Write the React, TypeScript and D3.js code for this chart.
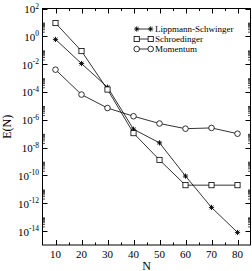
import React, { useRef, useEffect } from "react";
import { select, scaleLinear, scaleLog, line, range } from "d3";

const nValues = [10, 20, 30, 40, 50, 60, 70, 80];
const lippmannSchwinger = [0.6, 0.011, 2.2e-4, 2.1e-7, 2.2e-8, 9e-11, 5e-13, 8e-15];
const schroedinger = [9, 0.087, 1.5e-4, 1.1e-7, 1.3e-9, 2e-11, 2e-11, 2e-11];
const momentum = [4e-3, 6.5e-5, 7e-6, 1.8e-6, 5.4e-7, 2.3e-7, 2.6e-7, 1e-7];
const seriesNames = ["Lippmann-Schwinger", "Schroedinger", "Momentum"];
const symbolKinds = ["star", "square", "circle"];
const xTicks = [10, 20, 30, 40, 50, 60, 70, 80];
const yExponents = [2, 0, -2, -4, -6, -8, -10, -12, -14];

const WIDTH = 252;
const HEIGHT = 271;
const FONT = "'Liberation Serif', 'Times New Roman', serif";

function drawSymbol(g, kind, cx, cy) {
    const r = 2.6;
    if (kind === "square") {
        g.append("rect")
            .attr("x", cx - r).attr("y", cy - r)
            .attr("width", 2 * r).attr("height", 2 * r)
            .attr("fill", "white").attr("stroke", "black").attr("stroke-width", 0.8);
    } else if (kind === "circle") {
        g.append("circle")
            .attr("cx", cx).attr("cy", cy).attr("r", r + 0.2)
            .attr("fill", "white").attr("stroke", "black").attr("stroke-width", 0.8);
    } else {
        // star = plus + cross
        const d = r * 0.72;
        const p = `M${cx - r},${cy}L${cx + r},${cy}M${cx},${cy - r}L${cx},${cy + r}` +
            `M${cx - d},${cy - d}L${cx + d},${cy + d}M${cx - d},${cy + d}L${cx + d},${cy - d}`;
        g.append("path").attr("d", p).attr("stroke", "black").attr("stroke-width", 0.9);
    }
}

function App() {
    const svgRef = useRef(null);

    useEffect(() => {
        const svg = select(svgRef.current);
        svg.selectAll("*").remove();

        const x = scaleLinear().domain([5, 85]).range([42.5, 250.5]);
        const y = scaleLog().domain([1e-15, 1e2]).range([245, 8.5]);
        const [x0, x1] = x.range();
        const [yb, yt] = y.range();

        const axes = svg.append("g").attr("stroke", "black").attr("stroke-width", 1);

        // x ticks on bottom and top, pointing inward
        const xMinor = range(5, 86, 5).filter(v => v % 10 !== 0 && v > 5 && v < 85);
        xTicks.forEach(v => {
            const px = Math.round(x(v)) + 0.5;
            axes.append("line").attr("x1", px).attr("x2", px).attr("y1", yb).attr("y2", yb - 5);
            axes.append("line").attr("x1", px).attr("x2", px).attr("y1", yt).attr("y2", yt + 5);
        });
        xMinor.forEach(v => {
            const px = Math.round(x(v)) + 0.5;
            axes.append("line").attr("x1", px).attr("x2", px).attr("y1", yb).attr("y2", yb - 2.5);
            axes.append("line").attr("x1", px).attr("x2", px).attr("y1", yt).attr("y2", yt + 2.5);
        });

        // y ticks on left and right
        yExponents.forEach(e => {
            const py = Math.round(y(Math.pow(10, e))) + 0.5;
            axes.append("line").attr("x1", x0).attr("x2", x0 + 5).attr("y1", py).attr("y2", py);
            axes.append("line").attr("x1", x1).attr("x2", x1 - 5).attr("y1", py).attr("y2", py);
            for (let k = 2; k <= 9; k++) {
                const v = k * Math.pow(10, e);
                if (v > 1e2) continue;
                const my = y(v);
                axes.append("line").attr("x1", x0).attr("x2", x0 + 2.5).attr("y1", my).attr("y2", my)
                    .attr("stroke-width", 0.7);
                axes.append("line").attr("x1", x1).attr("x2", x1 - 2.5).attr("y1", my).attr("y2", my)
                    .attr("stroke-width", 0.7);
            }
        });

        // frame
        svg.append("rect")
            .attr("x", x0).attr("y", yt)
            .attr("width", x1 - x0).attr("height", yb - yt)
            .attr("fill", "none").attr("stroke", "black").attr("stroke-width", 1);

        // tick labels
        const labels = svg.append("g").attr("font-family", FONT).attr("fill", "black");
        xTicks.forEach(v => {
            labels.append("text")
                .attr("x", x(v)).attr("y", 257.5)
                .attr("text-anchor", "middle").attr("font-size", 11)
                .text(v);
        });
        yExponents.forEach(e => {
            const t = labels.append("text")
                .attr("x", 39).attr("y", y(Math.pow(10, e)) + 4.5)
                .attr("text-anchor", "end").attr("font-size", 11);
            t.append("tspan").text("10");
            t.append("tspan").attr("font-size", 7.5).attr("dy", -4.5)
                .text(e < 0 ? "-" + Math.abs(e) : String(e));
        });

        // axis titles
        labels.append("text")
            .attr("x", (x0 + x1) / 2).attr("y", 269.5)
            .attr("text-anchor", "middle").attr("font-size", 12)
            .text("N");
        labels.append("text")
            .attr("transform", `translate(10.5,${(yb + yt) / 2}) rotate(-90)`)
            .attr("text-anchor", "middle").attr("font-size", 12)
            .text("E(N)");

        // series
        const allSeries = [lippmannSchwinger, schroedinger, momentum];
        const lineGen = line().x(d => x(d[0])).y(d => y(d[1]));
        allSeries.forEach((vals, i) => {
            const pts = nValues.map((n, j) => [n, vals[j]]);
            svg.append("path")
                .attr("d", lineGen(pts))
                .attr("fill", "none").attr("stroke", "black").attr("stroke-width", 0.8);
        });
        allSeries.forEach((vals, i) => {
            const g = svg.append("g");
            nValues.forEach((n, j) => drawSymbol(g, symbolKinds[i], x(n), y(vals[j])));
        });

        // legend
        const legend = svg.append("g");
        seriesNames.forEach((name, i) => {
            const ly = 29 + i * 10;
            legend.append("line")
                .attr("x1", 136.7).attr("x2", 150.7).attr("y1", ly).attr("y2", ly)
                .attr("stroke", "black").attr("stroke-width", 0.8);
            drawSymbol(legend, symbolKinds[i], 136.7, ly);
            drawSymbol(legend, symbolKinds[i], 150.7, ly);
            legend.append("text")
                .attr("x", 155).attr("y", ly + 3)
                .attr("font-family", FONT).attr("font-size", 9)
                .text(name);
        });
    }, []);

    return (
        <div style={{ position: "absolute", left: 0, top: 0 }}>
            <svg ref={svgRef} width={WIDTH} height={HEIGHT} style={{ display: "block", background: "white" }}>
            </svg>
        </div>
    );
}

export default App;
